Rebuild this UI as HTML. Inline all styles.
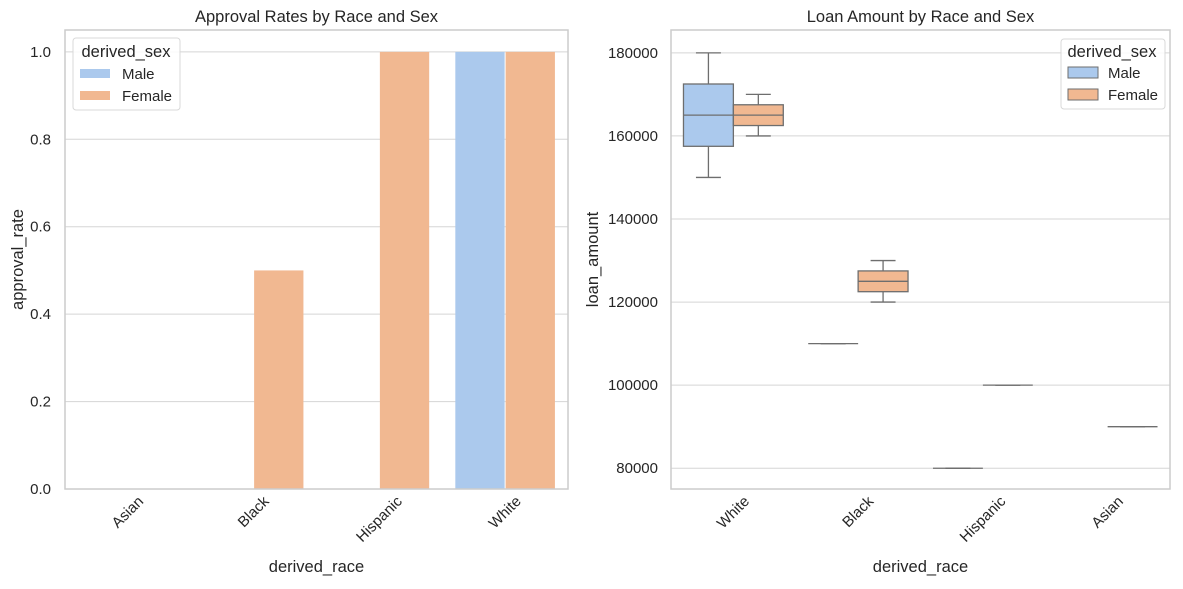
<!DOCTYPE html>
<html><head><meta charset="utf-8"><style>
body{margin:0;background:#fff;}
svg text{font-family:"Liberation Sans",sans-serif;fill:#262626;}
</style></head><body>
<svg id="c" width="1183" height="584" xmlns="http://www.w3.org/2000/svg"></svg>
<script>
const races1 = ["Asian","Black","Hispanic","White"];
const maleRate = [0,0,0,1];
const femaleRate = [0,0.5,1,1];
const ticks1 = [0,0.2,0.4,0.6,0.8,1.0];
const tickLabels1 = ["0.0","0.2","0.4","0.6","0.8","1.0"];

const races2 = ["White","Black","Hispanic","Asian"];
// [whiskerLow, q1, median, q3, whiskerHigh] or null
const maleBox = [[150000,157500,165000,172500,180000],[110000,110000,110000,110000,110000],[80000,80000,80000,80000,80000],null];
const femaleBox = [[160000,162500,165000,167500,170000],[120000,122500,125000,127500,130000],[100000,100000,100000,100000,100000],[90000,90000,90000,90000,90000]];
const ticks2 = [80000,100000,120000,140000,160000,180000];

const NS="http://www.w3.org/2000/svg";
const svg=document.getElementById('c');
function el(t,a,p){const e=document.createElementNS(NS,t);for(const k in a)e.setAttribute(k,a[k]);(p||svg).appendChild(e);return e;}
const MC="#abc9ed", FC="#f1b891", EDGE="#6e6e6e";
const TF=15, AF=16.5;

function xLabel(txt,cx,ytop){
  const tx=el('text',{'text-anchor':'middle','dominant-baseline':'central','font-size':TF});
  tx.textContent=txt;
  
  
  const w=tx.getComputedTextLength(), h=TF*0.75;
  const half=(w+h)*0.7071/2;
  tx.setAttribute('transform',`translate(${cx},${ytop+half}) rotate(-45)`);
}

// ---------- Left chart ----------
const L={x0:65,x1:568,y0:30,y1:489};
const y1=v=>L.y1-(v-0)/(1.05)*(L.y1-L.y0);
const bw1=(L.x1-L.x0)/races1.length;
const cx1=i=>L.x0+(i+0.5)*bw1;
ticks1.forEach((t,i)=>{
  const g=el('line',{x1:L.x0,x2:L.x1,y1:y1(t),y2:y1(t),stroke:'#d5d5d5','stroke-width':1});
  
  
  const tx=el('text',{x:L.x0-14,y:y1(t)+5,'text-anchor':'end','font-size':TF});
  tx.textContent=tickLabels1[i];
  
  
});
races1.forEach((r,i)=>{
  const w=bw1*0.4;
  [[maleRate[i],MC,-1,'male'],[femaleRate[i],FC,0,'female']].forEach(([v,c,o,s])=>{
    if(v<=0)return;
    const b=el('rect',{x:cx1(i)+o*w+0.5,y:y1(v),width:w-1,height:L.y1-y1(v),fill:c});
    
    
  });
  xLabel(r,cx1(i),L.y1+6);
});
const f1=el('rect',{x:L.x0,y:L.y0,width:L.x1-L.x0,height:L.y1-L.y0,fill:'none',stroke:'#cccccc','stroke-width':1.5});


let t=el('text',{x:(L.x0+L.x1)/2,y:22,'text-anchor':'middle','font-size':AF});t.textContent='Approval Rates by Race and Sex';


t=el('text',{x:(L.x0+L.x1)/2,y:572,'text-anchor':'middle','font-size':AF});t.textContent='derived_race';


t=el('text',{transform:`translate(23,${(L.y0+L.y1)/2}) rotate(-90)`,'text-anchor':'middle','font-size':AF});t.textContent='approval_rate';


let lg=el('g',{});


el('rect',{x:73,y:38,width:107,height:72,rx:3,fill:'#fff','fill-opacity':0.85,stroke:'#d8d8d8'},lg);
t=el('text',{x:126,y:57,'text-anchor':'middle','font-size':AF},lg);t.textContent='derived_sex';
el('rect',{x:80,y:69,width:30,height:9,fill:MC},lg);
t=el('text',{x:122,y:79,'font-size':TF},lg);t.textContent='Male';
el('rect',{x:80,y:91,width:30,height:9,fill:FC},lg);
t=el('text',{x:122,y:101,'font-size':TF},lg);t.textContent='Female';

// ---------- Right chart ----------
const R={x0:671,x1:1170,y0:30,y1:489};
const ymin=75000,ymax=185500;
const y2=v=>R.y1-(v-ymin)/(ymax-ymin)*(R.y1-R.y0);
const bw2=(R.x1-R.x0)/races2.length;
const cx2=i=>R.x0+(i+0.5)*bw2;
ticks2.forEach(tk=>{
  const g=el('line',{x1:R.x0,x2:R.x1,y1:y2(tk),y2:y2(tk),stroke:'#d5d5d5','stroke-width':1});
  
  
  const tx=el('text',{x:R.x0-13,y:y2(tk)+5,'text-anchor':'end','font-size':TF});
  tx.textContent=String(tk);
  
  
});
function box(i,d,c,o,s){
  if(!d)return;
  const w=bw2*0.4, x=cx2(i)+o*w, m=x+w/2;
  const g=el('g',{});
  
  
  const st={stroke:EDGE,'stroke-width':1.3,fill:'none'};
  el('line',Object.assign({x1:m,x2:m,y1:y2(d[0]),y2:y2(d[1])},st),g);
  el('line',Object.assign({x1:m,x2:m,y1:y2(d[3]),y2:y2(d[4])},st),g);
  el('line',Object.assign({x1:m-w/4,x2:m+w/4,y1:y2(d[0]),y2:y2(d[0])},st),g);
  el('line',Object.assign({x1:m-w/4,x2:m+w/4,y1:y2(d[4]),y2:y2(d[4])},st),g);
  el('rect',{x:x,y:y2(d[3]),width:w,height:Math.max(0,y2(d[1])-y2(d[3])),fill:c,stroke:EDGE,'stroke-width':1.3},g);
  el('line',Object.assign({x1:x,x2:x+w,y1:y2(d[2]),y2:y2(d[2])},st),g);
}
races2.forEach((r,i)=>{
  box(i,maleBox[i],MC,-1,'male');
  box(i,femaleBox[i],FC,0,'female');
  xLabel(r,cx2(i),R.y1+6);
});
const f2=el('rect',{x:R.x0,y:R.y0,width:R.x1-R.x0,height:R.y1-R.y0,fill:'none',stroke:'#cccccc','stroke-width':1.5});


t=el('text',{x:(R.x0+R.x1)/2,y:22,'text-anchor':'middle','font-size':AF});t.textContent='Loan Amount by Race and Sex';


t=el('text',{x:(R.x0+R.x1)/2,y:572,'text-anchor':'middle','font-size':AF});t.textContent='derived_race';


t=el('text',{transform:`translate(598,${(R.y0+R.y1)/2}) rotate(-90)`,'text-anchor':'middle','font-size':AF});t.textContent='loan_amount';


lg=el('g',{});


el('rect',{x:1061,y:39,width:104,height:70,rx:3,fill:'#fff','fill-opacity':0.85,stroke:'#d8d8d8'},lg);
t=el('text',{x:1112,y:57,'text-anchor':'middle','font-size':AF},lg);t.textContent='derived_sex';
el('rect',{x:1068,y:67,width:30,height:11,fill:MC,stroke:EDGE},lg);
t=el('text',{x:1108,y:78,'font-size':TF},lg);t.textContent='Male';
el('rect',{x:1068,y:89,width:30,height:11,fill:FC,stroke:EDGE},lg);
t=el('text',{x:1108,y:100,'font-size':TF},lg);t.textContent='Female';
</script>
</body></html>
